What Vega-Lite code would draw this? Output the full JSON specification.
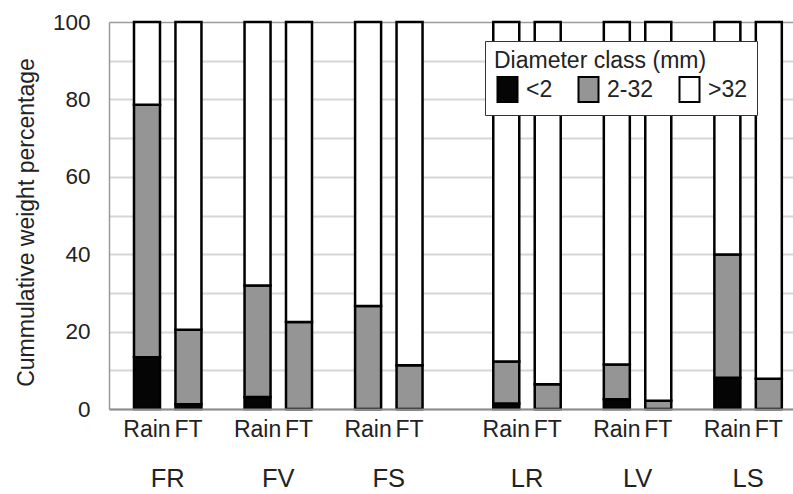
{
  "$schema": "https://vega.github.io/schema/vega-lite/v6.json",
  "width": 684,
  "height": 387,
  "autosize": "none",
  "padding": {"left": 109, "top": 22, "right": 0, "bottom": 85},
  "background": "white",
  "config": {
    "font": "Liberation Sans",
    "view": {"stroke": null}
  },
  "data": {
    "values": [
      {"group": "FR", "type": "Rain", "bar": "FR Rain", "cls": "<2", "rank": 1, "value": 13.4},
      {"group": "FR", "type": "Rain", "bar": "FR Rain", "cls": "2-32", "rank": 2, "value": 65.2},
      {"group": "FR", "type": "Rain", "bar": "FR Rain", "cls": ">32", "rank": 3, "value": 21.4},
      {"group": "FR", "type": "FT", "bar": "FR FT", "cls": "<2", "rank": 1, "value": 1.2},
      {"group": "FR", "type": "FT", "bar": "FR FT", "cls": "2-32", "rank": 2, "value": 19.3},
      {"group": "FR", "type": "FT", "bar": "FR FT", "cls": ">32", "rank": 3, "value": 79.5},
      {"group": "FV", "type": "Rain", "bar": "FV Rain", "cls": "<2", "rank": 1, "value": 3.1},
      {"group": "FV", "type": "Rain", "bar": "FV Rain", "cls": "2-32", "rank": 2, "value": 28.8},
      {"group": "FV", "type": "Rain", "bar": "FV Rain", "cls": ">32", "rank": 3, "value": 68.1},
      {"group": "FV", "type": "FT", "bar": "FV FT", "cls": "<2", "rank": 1, "value": 0},
      {"group": "FV", "type": "FT", "bar": "FV FT", "cls": "2-32", "rank": 2, "value": 22.5},
      {"group": "FV", "type": "FT", "bar": "FV FT", "cls": ">32", "rank": 3, "value": 77.5},
      {"group": "FS", "type": "Rain", "bar": "FS Rain", "cls": "<2", "rank": 1, "value": 0},
      {"group": "FS", "type": "Rain", "bar": "FS Rain", "cls": "2-32", "rank": 2, "value": 26.6},
      {"group": "FS", "type": "Rain", "bar": "FS Rain", "cls": ">32", "rank": 3, "value": 73.4},
      {"group": "FS", "type": "FT", "bar": "FS FT", "cls": "<2", "rank": 1, "value": 0},
      {"group": "FS", "type": "FT", "bar": "FS FT", "cls": "2-32", "rank": 2, "value": 11.3},
      {"group": "FS", "type": "FT", "bar": "FS FT", "cls": ">32", "rank": 3, "value": 88.7},
      {"group": "LR", "type": "Rain", "bar": "LR Rain", "cls": "<2", "rank": 1, "value": 1.4},
      {"group": "LR", "type": "Rain", "bar": "LR Rain", "cls": "2-32", "rank": 2, "value": 10.9},
      {"group": "LR", "type": "Rain", "bar": "LR Rain", "cls": ">32", "rank": 3, "value": 87.7},
      {"group": "LR", "type": "FT", "bar": "LR FT", "cls": "<2", "rank": 1, "value": 0},
      {"group": "LR", "type": "FT", "bar": "LR FT", "cls": "2-32", "rank": 2, "value": 6.4},
      {"group": "LR", "type": "FT", "bar": "LR FT", "cls": ">32", "rank": 3, "value": 93.6},
      {"group": "LV", "type": "Rain", "bar": "LV Rain", "cls": "<2", "rank": 1, "value": 2.5},
      {"group": "LV", "type": "Rain", "bar": "LV Rain", "cls": "2-32", "rank": 2, "value": 9.0},
      {"group": "LV", "type": "Rain", "bar": "LV Rain", "cls": ">32", "rank": 3, "value": 88.5},
      {"group": "LV", "type": "FT", "bar": "LV FT", "cls": "<2", "rank": 1, "value": 0},
      {"group": "LV", "type": "FT", "bar": "LV FT", "cls": "2-32", "rank": 2, "value": 2.1},
      {"group": "LV", "type": "FT", "bar": "LV FT", "cls": ">32", "rank": 3, "value": 97.9},
      {"group": "LS", "type": "Rain", "bar": "LS Rain", "cls": "<2", "rank": 1, "value": 8.1},
      {"group": "LS", "type": "Rain", "bar": "LS Rain", "cls": "2-32", "rank": 2, "value": 31.8},
      {"group": "LS", "type": "Rain", "bar": "LS Rain", "cls": ">32", "rank": 3, "value": 60.1},
      {"group": "LS", "type": "FT", "bar": "LS FT", "cls": "<2", "rank": 1, "value": 0},
      {"group": "LS", "type": "FT", "bar": "LS FT", "cls": "2-32", "rank": 2, "value": 7.8},
      {"group": "LS", "type": "FT", "bar": "LS FT", "cls": ">32", "rank": 3, "value": 92.2}
    ]
  },
  "mark": {"type": "bar", "width": 26, "stroke": "#000000", "strokeWidth": 2.5},
  "encoding": {
    "x": {
      "field": "bar",
      "type": "nominal",
      "scale": {
        "paddingInner": 0,
        "paddingOuter": 0,
        "domain": ["_0","_1","_2","_3","_4","FR Rain","_6","_7","FR","_9","_10","FR FT",
          "_12","_13","_14","_15","_16","_17","_18","_19","_20","FV Rain","_22","_23","FV","_25","_26","FV FT",
          "_28","_29","_30","_31","_32","_33","_34","_35","_36","FS Rain","_38","_39","FS","_41","_42","FS FT",
          "_44","_45","_46","_47","_48","_49","_50","_51","_52","_53","_54","_55","_56","LR Rain","_58","_59","LR","_61","_62","LR FT",
          "_64","_65","_66","_67","_68","_69","_70","_71","_72","LV Rain","_74","_75","LV","_77","_78","LV FT",
          "_80","_81","_82","_83","_84","_85","_86","_87","_88","LS Rain","_90","_91","LS","_93","_94","LS FT",
          "_96","_97","_98"]
      },
      "axis": {
        "title": null,
        "ticks": false,
        "tickSize": 0,
        "grid": false,
        "domain": true,
        "domainColor": "#8c8c8c",
        "domainWidth": 2,
        "labelAngle": 0,
        "labelOverlap": false,
        "labelBound": false,
        "labelFlush": false,
        "labelLimit": 0,
        "labelColor": "#222222",
        "labelExpr": "slice(datum.value, 0, 1) == '_' ? '' : (indexof(datum.value, ' ') > 0 ? split(datum.value, ' ')[1] : datum.value)",
        "labelFontSize": {"condition": {"test": "indexof(['FR','FV','FS','LR','LV','LS'], datum.value) >= 0", "value": 25.5}, "value": 23},
        "labelPadding": {"condition": {"test": "indexof(['FR','FV','FS','LR','LV','LS'], datum.value) >= 0", "value": 57}, "value": 9},
        "zindex": 1
      }
    },
    "y": {
      "field": "value",
      "type": "quantitative",
      "stack": "zero",
      "scale": {"domain": [0, 100], "nice": false, "zero": true},
      "axis": {
        "title": "Cummulative weight percentage",
        "titleFontSize": 23,
        "titleFontWeight": "normal",
        "titleColor": "#222222",
        "titlePadding": 14,
        "titleY": 200,
        "values": [0, 10, 20, 30, 40, 50, 60, 70, 80, 90, 100],
        "labelExpr": "datum.value % 20 == 0 ? datum.label : ''",
        "labelFontSize": 22.5,
        "labelColor": "#222222",
        "labelPadding": 19,
        "ticks": false,
        "tickSize": 0,
        "domain": true,
        "domainColor": "#9a9a9a",
        "domainWidth": 1.5,
        "grid": true,
        "gridColor": {"condition": {"test": "datum.value == 100", "value": "#9a9a9a"}, "value": "#d6d6d6"},
        "gridWidth": {"condition": {"test": "datum.value == 100", "value": 1.5}, "value": 2},
        "labelOverlap": false
      }
    },
    "color": {
      "field": "cls",
      "type": "nominal",
      "sort": ["<2", "2-32", ">32"],
      "scale": {"domain": ["<2", "2-32", ">32"], "range": ["#050505", "#959595", "#ffffff"]},
      "legend": {
        "title": "Diameter class (mm)",
        "orient": "none",
        "legendX": 376,
        "legendY": 19,
        "direction": "horizontal",
        "titleFontSize": 23,
        "titleFontWeight": "normal",
        "titleColor": "#222222",
        "titlePadding": 3,
        "titleLimit": 0,
        "labelFontSize": 23,
        "labelColor": "#222222",
        "labelOffset": 5,
        "symbolType": "M-0.8,-1H0.8V1H-0.8Z",
        "symbolSize": 625,
        "symbolStrokeColor": "#000000",
        "symbolStrokeWidth": 2,
        "symbolOpacity": 1,
        "fillColor": "#ffffff",
        "strokeColor": "#333333",
        "padding": 9,
        "columnPadding": 21
      }
    },
    "order": {"field": "rank", "sort": "ascending"}
  }
}
